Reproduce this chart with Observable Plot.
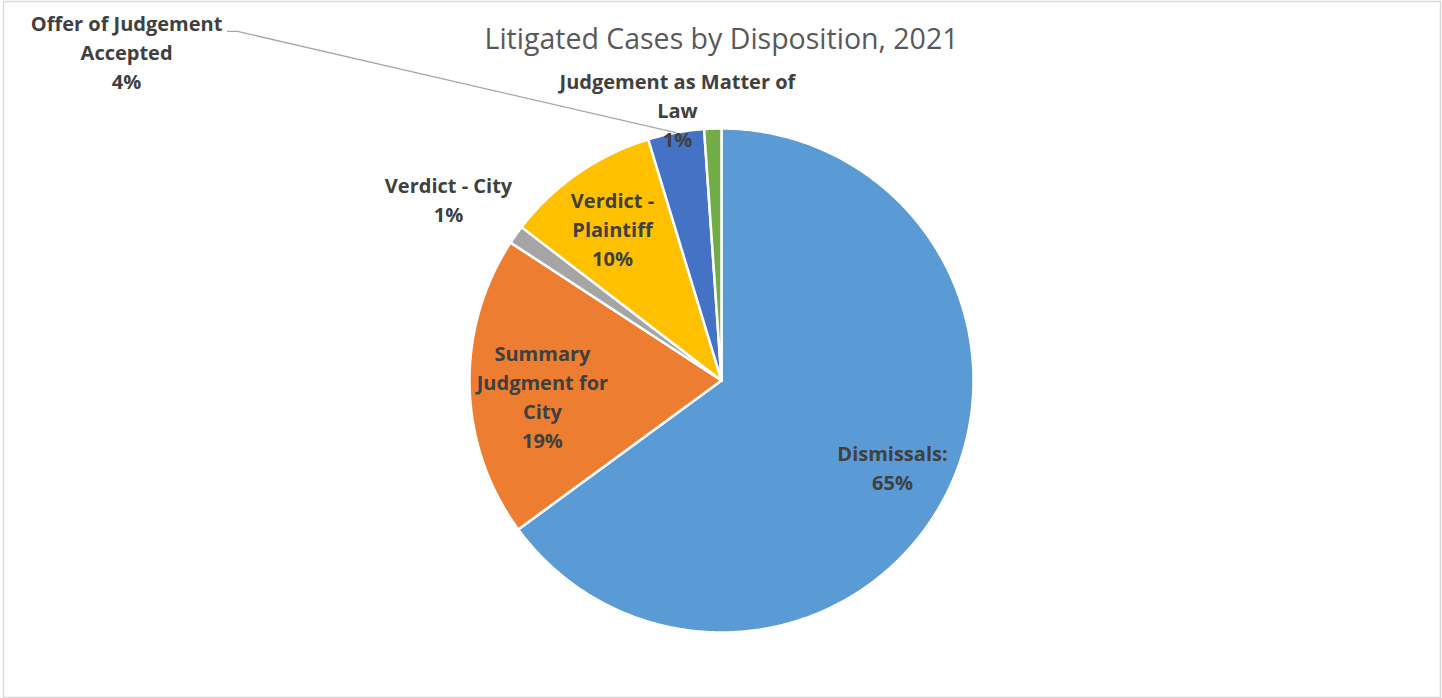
<!DOCTYPE html>
<html>
<head>
<meta charset="utf-8">
<script src="https://cdn.jsdelivr.net/npm/d3@7"></script>
<script src="https://cdn.jsdelivr.net/npm/@observablehq/plot@0.6"></script>
<style>
  html, body { margin: 0; padding: 0; background: #fff; }
  svg { display: block; }
</style>
</head>
<body>
<div id="chart"></div>
<script>
// ---- Data ----
const title = "Litigated Cases by Disposition, 2021";
const categories = [
  "Dismissals",
  "Summary Judgment for City",
  "Verdict - City",
  "Verdict - Plaintiff",
  "Offer of Judgement Accepted",
  "Judgement as Matter of Law"
];
const values = [65.0, 19.3, 1.2, 9.9, 3.6, 1.1];
const labelNames = [
  "Dismissals:",
  "Summary\nJudgment for\nCity",
  "Verdict - City",
  "Verdict -\nPlaintiff",
  "Offer of Judgement\nAccepted",
  "Judgement as Matter of\nLaw"
];
const colors = ["#5B9BD5", "#ED7D31", "#A5A5A5", "#FFC000", "#4472C4", "#70AD47"];

// ---- Layout (not data) ----
const W = 1442, H = 698;
const cx = 721, cy = 380, R = 252;
// label placement: [angle in degrees clockwise from top, radius as fraction of R]
const labelPlacement = [
  [117.5, 0.765],
  [264.4, 0.714],
  [303.3, 1.296],
  [324.0, 0.736],
  [298.8, 2.694],
  [350.7, 1.082]
];

// ---- Derived geometry ----
const total = d3.sum(values);
const rad = (deg) => deg * Math.PI / 180;
const unit = (a, r) => ({x: r * Math.sin(a), y: -r * Math.cos(a)});

let cum = 0;
const slices = values.map((v, i) => {
  const a0 = cum / total * 2 * Math.PI;
  cum += v;
  const a1 = cum / total * 2 * Math.PI;
  return {cat: categories[i], a0, a1, mid: (a0 + a1) / 2, value: v};
});

const slicePoints = [];
for (const s of slices) {
  slicePoints.push({cat: s.cat, x: 0, y: 0});
  const n = Math.max(4, Math.ceil((s.a1 - s.a0) / rad(0.5)));
  for (let k = 0; k <= n; k++) {
    const a = s.a0 + (s.a1 - s.a0) * k / n;
    slicePoints.push({cat: s.cat, ...unit(a, 1)});
  }
  slicePoints.push({cat: s.cat, x: 0, y: 0});
}

const labels = slices.map((s, i) => {
  const [ang, r] = labelPlacement[i];
  const p = unit(rad(ang), r);
  return {
    ...p,
    text: labelNames[i] + "\n" + Math.round(s.value / total * 100) + "%"
  };
});

// leader line for "Offer of Judgement Accepted"
const offerIdx = 4;
const offerLabel = labels[offerIdx];
const rimPt = unit(slices[offerIdx].mid, 1);
const leader = [
  {x: offerLabel.x + 101 / R, y: offerLabel.y - 22 / R},
  {x: offerLabel.x + 111 / R, y: offerLabel.y - 22 / R},
  rimPt
];

const chart = Plot.plot({
  width: W,
  height: H,
  margin: 0,
  x: {domain: [-cx / R, (W - cx) / R], range: [0, W], axis: null},
  y: {domain: [-cy / R, (H - cy) / R], range: [0, H], axis: null},
  color: {domain: categories, range: colors},
  style: {fontFamily: "'Open Sans', Lato, sans-serif", background: "#fff"},
  marks: [
    Plot.frame({stroke: "#d9d9d9", strokeWidth: 1.5, insetLeft: 3, insetRight: 2, insetTop: 1, insetBottom: 1}),
    Plot.line(slicePoints, {
      x: "x", y: "y", z: "cat", fill: "cat",
      stroke: "white", strokeWidth: 2.5, strokeLinejoin: "round", curve: "linear"
    }),
    Plot.line(leader, {x: "x", y: "y", stroke: "#a6a6a6", strokeWidth: 1.3}),
    Plot.text(labels, {
      x: "x", y: "y", text: "text", dy: -3,
      fill: "#404040", fontSize: 20, fontWeight: "bold",
      lineHeight: 1.45, lineAnchor: "middle", textAnchor: "middle"
    }),
    Plot.text([title], {
      frameAnchor: "top", lineAnchor: "bottom", dy: 48,
      fill: "#595959", fontSize: 28.5, fontWeight: "normal"
    })
  ]
});

document.getElementById("chart").appendChild(chart);
</script>
</body>
</html>
